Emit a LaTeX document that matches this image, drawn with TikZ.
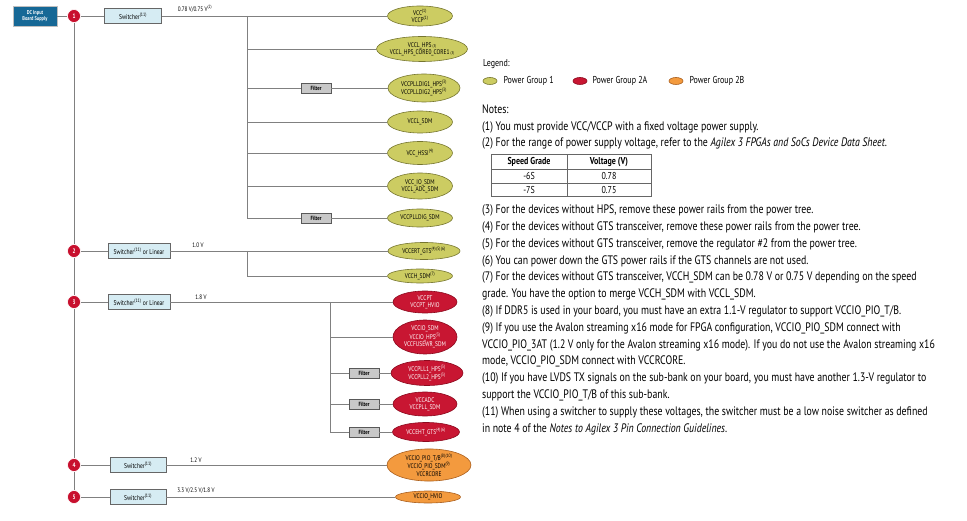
\documentclass[tikz,border=0pt]{standalone}
\usepackage{fontspec}
\setmainfont{PT Sans}[FakeStretch=0.8]
\usepackage{tikz}
\usetikzlibrary{shapes.geometric}
\usetikzlibrary{positioning}

\definecolor{railred}{RGB}{200,16,46}
\definecolor{groupone}{RGB}{204,204,98}
\definecolor{grouponeline}{RGB}{118,118,48}
\definecolor{grouptwoa}{RGB}{200,22,50}
\definecolor{grouptwoaline}{RGB}{140,10,30}
\definecolor{grouptwob}{RGB}{243,154,62}
\definecolor{grouptwobline}{RGB}{170,95,30}
\definecolor{supplyblue}{RGB}{22,104,150}
\definecolor{regfill}{RGB}{214,236,243}
\definecolor{filterfill}{RGB}{200,200,200}
\definecolor{wiregray}{RGB}{128,128,128}

\newcommand{\fn}[1]{\textsuperscript{(#1)}}
\newcommand{\fnlow}[1]{\,{\fontsize{4}{4}\selectfont(#1)}}

\tikzset{
  wire/.style={draw=wiregray, line width=0.9pt},
  railnum/.style={circle, fill=railred, draw=white, line width=0.6pt, minimum size=13pt, inner sep=0pt, text=white, font=\fontsize{6.5}{7}\selectfont\bfseries},
  supply/.style={rectangle, fill=supplyblue, draw=black!25, line width=0.8pt, minimum width=44pt, minimum height=20pt, inner sep=0pt, align=center, text=white, font=\fontsize{5.5}{6}\selectfont\bfseries},
  regbox/.style={rectangle, fill=regfill, draw=black!60, line width=0.7pt, minimum height=15pt, inner sep=1pt, font=\fontsize{7}{8}\selectfont},
  filterbox/.style={rectangle, fill=filterfill, draw=black!65, line width=0.7pt, minimum width=30pt, minimum height=10pt, inner sep=0pt, font=\fontsize{6}{7}\selectfont\bfseries},
  rail/.style={ellipse, inner sep=0pt, align=center, line width=0.6pt, font=\fontsize{6.8}{7.4}\selectfont},
  pgone/.style={rail, fill=groupone, draw=grouponeline},
  pgtwoa/.style={rail, fill=grouptwoa, draw=grouptwoaline, text=white},
  pgtwob/.style={rail, fill=grouptwob, draw=grouptwobline},
  volt/.style={inner sep=0pt, font=\fontsize{6.5}{7}\selectfont},
  keytext/.style={inner sep=0pt, font=\fontsize{10}{12}\selectfont},
  notetext/.style={anchor=base west, align=left, inner sep=0pt, font=\fontsize{12.3}{16.8}\selectfont},
  cell/.style={inner sep=0pt, font=\fontsize{10}{12}\selectfont},
}

\begin{document}
\begin{tikzpicture}[x=1pt,y=-1pt]
\useasboundingbox (0,0) rectangle (967,521);

% source and numbered regulators
\node[supply] (dcin) at (35,16) {DC Input\\Board Supply};
\node[railnum] (n1) at (74,16) {1};
\node[railnum] (n2) at (74,251) {2};
\node[railnum] (n3) at (74,302) {3};
\node[railnum] (n4) at (74,465) {4};
\node[railnum] (n5) at (74,497) {5};

\node[regbox, minimum width=57pt] (sw1) at (133,16) {Switcher\fn{11}};
\node[regbox, minimum width=62pt] (sw2) at (139,251) {Switcher\fn{11} or Linear};
\node[regbox, minimum width=62pt] (sw3) at (139,302) {Switcher\fn{11} or Linear};
\node[regbox, minimum width=56pt] (sw4) at (138,465) {Switcher\fn{11}};
\node[regbox, minimum width=56pt] (sw5) at (138,497) {Switcher\fn{11}};

\node[volt] (va) at (195,9) {0.78 V/0.75 V\fn{2}};
\node[volt] (vb) at (198,245) {1.0 V};
\node[volt] (vc) at (201,297) {1.8 V};
\node[volt] (vd) at (196,460) {1.2 V};
\node[volt] (ve) at (196,491) {3.3 V/2.5 V/1.8 V};

% power rails
\node[pgone, minimum width=65pt, minimum height=20pt] (vcc) at (420,16) {VCC\fn{1}\\VCCP\fn{1}};
\node[pgone, minimum width=90pt, minimum height=25pt] (vcclhps) at (422,49) {VCCL\_HPS\fnlow{3}\\VCCL\_HPS\_CORE0\_CORE1\fnlow{3}};
\node[pgone, minimum width=72pt, minimum height=28pt] (plldighps) at (424,88) {VCCPLLDIG1\_HPS\fn{3}\\VCCPLLDIG2\_HPS\fn{3}};
\node[pgone, minimum width=65pt, minimum height=22pt] (vcclsdm) at (420,122) {VCCL\_SDM};
\node[pgone, minimum width=65pt, minimum height=23pt] (hssi) at (420,153) {VCC\_HSSI\fn{4}};
\node[pgone, minimum width=65pt, minimum height=26pt] (iosdm) at (420,186) {VCC\_IO\_SDM\\VCCL\_ADC\_SDM};
\node[pgone, minimum width=65pt, minimum height=18pt] (plldigsdm) at (420,218) {VCCPLLDIG\_SDM};
\node[pgone, minimum width=72pt, minimum height=17pt] (vccert) at (424,251) {VCCERT\_GTS\fn{4}\fn{5}\fn{6}};
\node[pgone, minimum width=65pt, minimum height=14pt] (vcchsdm) at (420,276) {VCCH\_SDM\fn{7}};
\node[pgtwoa, minimum width=64pt, minimum height=22pt] (vccpt) at (425,302) {VCCPT\\VCCPT\_HVIO};
\node[pgtwoa, minimum width=64pt, minimum height=34pt] (vcciosdm) at (425,337) {VCCIO\_SDM\\VCCIO\_HPS\fn{3}\\VCCFUSEWR\_SDM};
\node[pgtwoa, minimum width=72pt, minimum height=25pt] (pllhps) at (427,373) {VCCPLL1\_HPS\fn{3}\\VCCPLL2\_HPS\fn{3}};
\node[pgtwoa, minimum width=64pt, minimum height=24pt] (vccadc) at (425,404) {VCCADC\\VCCPLL\_SDM};
\node[pgtwoa, minimum width=67pt, minimum height=19pt] (vcceht) at (426,432) {VCCEHT\_GTS\fn{4}\fn{6}};
\node[pgtwob, minimum width=84pt, minimum height=32pt] (piotb) at (429,465) {VCCIO\_PIO\_T/B\fn{8}\fn{10}\\VCCIO\_PIO\_SDM\fn{9}\\VCCRCORE};
\node[pgtwob, minimum width=65pt, minimum height=12pt] (hvio) at (428,497) {VCCIO\_HVIO};

\node[filterbox] (flta) at (316,88) {Filter};
\node[filterbox] (fltb) at (316,218) {Filter};
\node[filterbox] (fltc) at (364,373) {Filter};
\node[filterbox] (fltd) at (364,404) {Filter};
\node[filterbox] (flte) at (364,432) {Filter};

\coordinate (busa) at (247,16);
\coordinate (busb) at (247,251);
\coordinate (busc) at (330,302);

\draw[wire] (dcin) -- (n1) -- (sw1) -- (vcc);
\draw[wire] (n1) -- (n2) -- (n3) -- (n4) -- (n5);
\draw[wire] (n2) -- (sw2) -- (vccert);
\draw[wire] (n3) -- (sw3) -- (vccpt);
\draw[wire] (n4) -- (sw4) -- (piotb);
\draw[wire] (n5) -- (sw5) -- (hvio);

\draw[wire] (busa) -- (busa |- fltb) -- (fltb) -- (plldigsdm);
\foreach \rail in {vcclhps,vcclsdm,hssi,iosdm}
  \draw[wire] (busa |- \rail) -- (\rail);
\draw[wire] (busa |- flta) -- (flta) -- (plldighps);

\draw[wire] (busb) -- (busb |- vcchsdm) -- (vcchsdm);

\draw[wire] (busc) -- (busc |- flte) -- (flte) -- (vcceht);
\draw[wire] (busc |- vcciosdm) -- (vcciosdm);
\draw[wire] (busc |- fltc) -- (fltc) -- (pllhps);
\draw[wire] (busc |- fltd) -- (fltd) -- (vccadc);

% legend
\node[keytext, anchor=base west] (legend) at (483,67) {Legend:};
\node[pgone, minimum width=14pt, minimum height=7pt] (keya) at (490,81) {};
\node[keytext, right=6pt of keya] (keyatxt) {Power Group 1};
\node[pgtwoa, minimum width=14pt, minimum height=7pt] (keyb) at (580,81) {};
\node[keytext, right=5pt of keyb] (keybtxt) {Power Group 2A};
\node[pgtwob, minimum width=14pt, minimum height=7pt] (keyc) at (676,81) {};
\node[keytext, right=6pt of keyc] (keyctxt) {Power Group 2B};

% notes (base = last line)
\node[notetext] (notesa) at (482,147) {Notes:\\
(1) You must provide VCC/VCCP with a fixed voltage power supply.\\
(2) For the range of power supply voltage, refer to the \textit{Agilex 3 FPGAs and SoCs Device Data Sheet}.};

\draw[draw=black!60, line width=1pt] (491,155) rectangle (651,197);
\draw[draw=black!60, line width=0.6pt] (567,155) -- (567,197);
\draw[draw=black!60, line width=0.6pt] (491,169) -- (651,169);
\draw[draw=black!60, line width=0.6pt] (491,183) -- (651,183);
\node[cell, font=\fontsize{10}{12}\selectfont\bfseries] (grade) at (529,162) {Speed Grade};
\node[cell, font=\fontsize{10}{12}\selectfont\bfseries] (volt) at (609,162) {Voltage (V)};
\node[cell] (gradea) at (529,176) {-6S};
\node[cell] (volta) at (609,176) {0.78};
\node[cell] (gradeb) at (529,190) {-7S};
\node[cell] (voltb) at (609,190) {0.75};

\node[notetext] (notesb) at (482,432) {(3) For the devices without HPS, remove these power rails from the power tree.\\
(4) For the devices without GTS transceiver, remove these power rails from the power tree.\\
(5) For the devices without GTS transceiver, remove the regulator \#2 from the power tree.\\
(6) You can power down the GTS power rails if the GTS channels are not used.\\
(7) For the devices without GTS transceiver, VCCH\_SDM can be 0.78 V or 0.75 V depending on the speed\\
grade. You have the option to merge VCCH\_SDM with VCCL\_SDM.\\
(8) If DDR5 is used in your board, you must have an extra 1.1-V regulator to support VCCIO\_PIO\_T/B.\\
(9) If you use the Avalon streaming x16 mode for FPGA configuration, VCCIO\_PIO\_SDM connect with\\
VCCIO\_PIO\_3AT (1.2 V only for the Avalon streaming x16 mode). If you do not use the Avalon streaming x16\\
mode, VCCIO\_PIO\_SDM connect with VCCRCORE.\\
(10) If you have LVDS TX signals on the sub-bank on your board, you must have another 1.3-V regulator to\\
support the VCCIO\_PIO\_T/B of this sub-bank.\\
(11) When using a switcher to supply these voltages, the switcher must be a low noise switcher as defined\\
in note 4 of the \textit{Notes to Agilex 3 Pin Connection Guidelines}.};
\end{tikzpicture}
\end{document}
